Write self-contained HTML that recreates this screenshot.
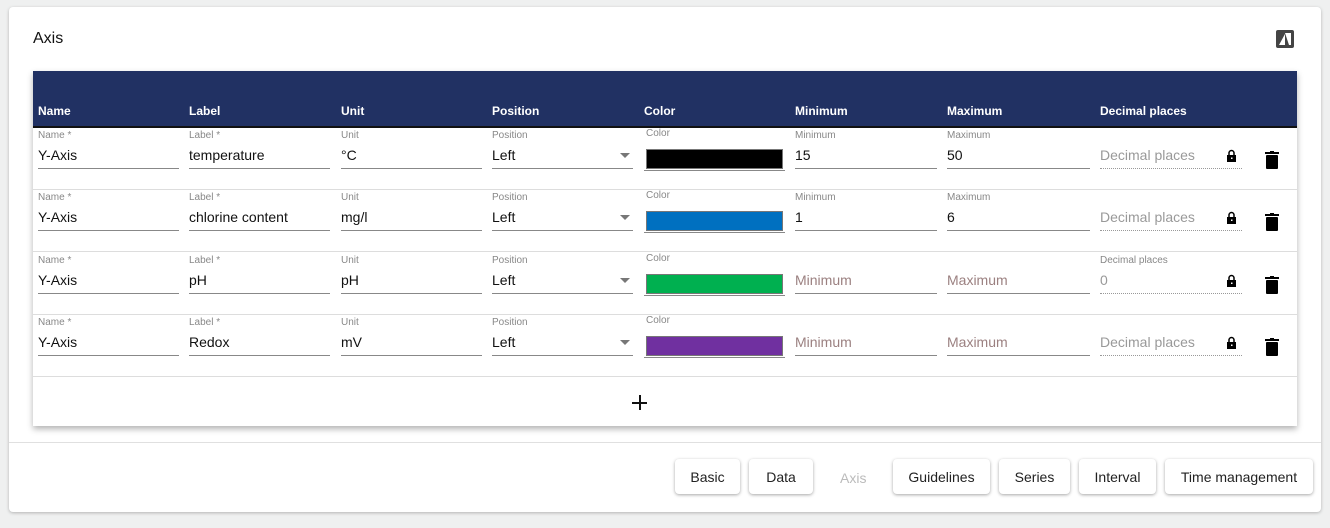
<!DOCTYPE html>
<html><head><meta charset="utf-8"><style>
*{box-sizing:border-box;margin:0;padding:0}
body{width:1330px;height:528px;background:#eff0f0;font-family:"Liberation Sans",Arial,sans-serif;position:relative;overflow:hidden}
.card{position:absolute;left:9px;top:7px;width:1312px;height:505px;background:#fff;border-radius:4px;box-shadow:0 1px 3px rgba(0,0,0,.25)}
.a{position:absolute}
.title{left:33px;top:30px;font-size:16px;color:#111}
.tbl{left:33px;top:71px;width:1264px;height:355px;background:#fff;box-shadow:0 3px 6px rgba(0,0,0,.3)}
.hdr{left:0;top:0;width:1264px;height:57px;background:#213163;border-bottom:2px solid #111}
.h{top:33px;font-size:12px;font-weight:bold;color:#fff}
.row{left:0;width:1264px;height:62px;border-bottom:1px solid #ddd}
.lb{top:2px;font-size:10px;color:#888}
.v{top:19px;font-size:14px;color:#111}
.ph{top:19px;font-size:14px;color:#9b8080}
.pg{top:19px;font-size:14px;color:#999}
.ul{top:40px;height:1px;background:#888;width:141px}
.dot{top:40px;height:0;border-top:1px dotted #999;width:142px}
.sw{top:21px;left:613px;width:137px;height:20px;border:1px solid #777}
.arr{top:25px;left:587px;width:0;height:0;border-left:5px solid transparent;border-right:5px solid transparent;border-top:5px solid #777}
.lock{left:1194px;top:21px;width:9px;height:13px}
.trash{left:1232px;top:23px;width:14px;height:18px}
.btn{top:459px;height:35px;background:#fff;border-radius:4px;box-shadow:0 1px 3px rgba(0,0,0,.35);font-size:14px;color:#222;text-align:center;line-height:37px}
</style></head><body>
<div class="card"></div>
<div class="a title">Axis</div>
<svg class="a" style="left:1276px;top:30px" width="18" height="18" viewBox="0 0 18 18"><rect x="0" y="0" width="18" height="18" rx="2" fill="#444"/><path d="M3 15 L9 4 L9 15Z M9 3 L15 3 L15 15 L13 15 Z" fill="#fff"/></svg>
<div class="a tbl">
<div class="a hdr">
<div class="a h" style="left:5px">Name</div><div class="a h" style="left:156px">Label</div><div class="a h" style="left:308px">Unit</div><div class="a h" style="left:459px">Position</div><div class="a h" style="left:611px">Color</div><div class="a h" style="left:762px">Minimum</div><div class="a h" style="left:914px">Maximum</div><div class="a h" style="left:1067px">Decimal places</div>
</div>

<div class="a row" style="top:57px">
<div class="a lb" style="left:5px">Name *</div><div class="a v" style="left:5px">Y-Axis</div><div class="a ul" style="left:5px"></div>
<div class="a lb" style="left:156px">Label *</div><div class="a v" style="left:156px">temperature</div><div class="a ul" style="left:156px"></div>
<div class="a lb" style="left:308px">Unit</div><div class="a v" style="left:308px">°C</div><div class="a ul" style="left:308px"></div>
<div class="a lb" style="left:459px">Position</div><div class="a v" style="left:459px">Left</div><div class="a arr"></div><div class="a ul" style="left:459px"></div>
<div class="a lb" style="left:613px;top:0">Color</div><div class="a sw" style="background:#000"></div><div class="a ul" style="left:611px;top:42px"></div>
<div class="a lb" style="left:762px">Minimum</div><div class="a v" style="left:762px">15</div><div class="a ul" style="left:762px;width:142px"></div>
<div class="a lb" style="left:914px">Maximum</div><div class="a v" style="left:914px">50</div><div class="a ul" style="left:914px;width:143px"></div>
<div class="a pg" style="left:1067px">Decimal places</div><div class="a dot" style="left:1067px"></div>
<svg class="a lock" viewBox="0 0 9 13"><path d="M2 6V4a2.5 2.5 0 0 1 5 0v2" stroke="#000" stroke-width="1.5" fill="none"/><rect x="0" y="6" width="9" height="7" fill="#000"/><rect x="4" y="8.5" width="1.5" height="1.5" fill="#fff"/></svg>
<svg class="a trash" viewBox="0 0 14 18"><rect x="0" y="1" width="14" height="2" fill="#000"/><rect x="5" y="0" width="4" height="2" fill="#000"/><rect x="1" y="4" width="12" height="14" rx="1" fill="#000"/></svg>
</div>

<div class="a row" style="top:119px">
<div class="a lb" style="left:5px">Name *</div><div class="a v" style="left:5px">Y-Axis</div><div class="a ul" style="left:5px"></div>
<div class="a lb" style="left:156px">Label *</div><div class="a v" style="left:156px">chlorine content</div><div class="a ul" style="left:156px"></div>
<div class="a lb" style="left:308px">Unit</div><div class="a v" style="left:308px">mg/l</div><div class="a ul" style="left:308px"></div>
<div class="a lb" style="left:459px">Position</div><div class="a v" style="left:459px">Left</div><div class="a arr"></div><div class="a ul" style="left:459px"></div>
<div class="a lb" style="left:613px;top:0">Color</div><div class="a sw" style="background:#0070c0"></div><div class="a ul" style="left:611px;top:42px"></div>
<div class="a lb" style="left:762px">Minimum</div><div class="a v" style="left:762px">1</div><div class="a ul" style="left:762px;width:142px"></div>
<div class="a lb" style="left:914px">Maximum</div><div class="a v" style="left:914px">6</div><div class="a ul" style="left:914px;width:143px"></div>
<div class="a pg" style="left:1067px">Decimal places</div><div class="a dot" style="left:1067px"></div>
<svg class="a lock" viewBox="0 0 9 13"><path d="M2 6V4a2.5 2.5 0 0 1 5 0v2" stroke="#000" stroke-width="1.5" fill="none"/><rect x="0" y="6" width="9" height="7" fill="#000"/><rect x="4" y="8.5" width="1.5" height="1.5" fill="#fff"/></svg>
<svg class="a trash" viewBox="0 0 14 18"><rect x="0" y="1" width="14" height="2" fill="#000"/><rect x="5" y="0" width="4" height="2" fill="#000"/><rect x="1" y="4" width="12" height="14" rx="1" fill="#000"/></svg>
</div>

<div class="a row" style="top:182px">
<div class="a lb" style="left:5px">Name *</div><div class="a v" style="left:5px">Y-Axis</div><div class="a ul" style="left:5px"></div>
<div class="a lb" style="left:156px">Label *</div><div class="a v" style="left:156px">pH</div><div class="a ul" style="left:156px"></div>
<div class="a lb" style="left:308px">Unit</div><div class="a v" style="left:308px">pH</div><div class="a ul" style="left:308px"></div>
<div class="a lb" style="left:459px">Position</div><div class="a v" style="left:459px">Left</div><div class="a arr"></div><div class="a ul" style="left:459px"></div>
<div class="a lb" style="left:613px;top:0">Color</div><div class="a sw" style="background:#00b050"></div><div class="a ul" style="left:611px;top:42px"></div>
<div class="a ph" style="left:762px">Minimum</div><div class="a ul" style="left:762px;width:142px"></div>
<div class="a ph" style="left:914px">Maximum</div><div class="a ul" style="left:914px;width:143px"></div>
<div class="a lb" style="left:1067px">Decimal places</div><div class="a pg" style="left:1067px">0</div><div class="a dot" style="left:1067px"></div>
<svg class="a lock" viewBox="0 0 9 13"><path d="M2 6V4a2.5 2.5 0 0 1 5 0v2" stroke="#000" stroke-width="1.5" fill="none"/><rect x="0" y="6" width="9" height="7" fill="#000"/><rect x="4" y="8.5" width="1.5" height="1.5" fill="#fff"/></svg>
<svg class="a trash" viewBox="0 0 14 18"><rect x="0" y="1" width="14" height="2" fill="#000"/><rect x="5" y="0" width="4" height="2" fill="#000"/><rect x="1" y="4" width="12" height="14" rx="1" fill="#000"/></svg>
</div>

<div class="a row" style="top:244px">
<div class="a lb" style="left:5px">Name *</div><div class="a v" style="left:5px">Y-Axis</div><div class="a ul" style="left:5px"></div>
<div class="a lb" style="left:156px">Label *</div><div class="a v" style="left:156px">Redox</div><div class="a ul" style="left:156px"></div>
<div class="a lb" style="left:308px">Unit</div><div class="a v" style="left:308px">mV</div><div class="a ul" style="left:308px"></div>
<div class="a lb" style="left:459px">Position</div><div class="a v" style="left:459px">Left</div><div class="a arr"></div><div class="a ul" style="left:459px"></div>
<div class="a lb" style="left:613px;top:0">Color</div><div class="a sw" style="background:#7030a0"></div><div class="a ul" style="left:611px;top:42px"></div>
<div class="a ph" style="left:762px">Minimum</div><div class="a ul" style="left:762px;width:142px"></div>
<div class="a ph" style="left:914px">Maximum</div><div class="a ul" style="left:914px;width:143px"></div>
<div class="a pg" style="left:1067px">Decimal places</div><div class="a dot" style="left:1067px"></div>
<svg class="a lock" viewBox="0 0 9 13"><path d="M2 6V4a2.5 2.5 0 0 1 5 0v2" stroke="#000" stroke-width="1.5" fill="none"/><rect x="0" y="6" width="9" height="7" fill="#000"/><rect x="4" y="8.5" width="1.5" height="1.5" fill="#fff"/></svg>
<svg class="a trash" viewBox="0 0 14 18"><rect x="0" y="1" width="14" height="2" fill="#000"/><rect x="5" y="0" width="4" height="2" fill="#000"/><rect x="1" y="4" width="12" height="14" rx="1" fill="#000"/></svg>
</div>

<div class="a" style="left:599px;top:324px;width:15px;height:15px"><div class="a" style="left:0;top:7px;width:15px;height:2px;background:#111"></div><div class="a" style="left:7px;top:0;width:2px;height:15px;background:#111"></div></div>
</div>

<div class="a" style="left:9px;top:442px;width:1312px;height:1px;background:#e0e0e0"></div>
<div class="a btn" style="left:675px;width:65px">Basic</div>
<div class="a btn" style="left:749px;width:64px">Data</div>
<div class="a" style="left:840px;top:470px;font-size:14px;color:#bbb">Axis</div>
<div class="a btn" style="left:893px;width:97px">Guidelines</div>
<div class="a btn" style="left:999px;width:71px">Series</div>
<div class="a btn" style="left:1079px;width:77px">Interval</div>
<div class="a btn" style="left:1165px;width:148px">Time management</div>
</body></html>
